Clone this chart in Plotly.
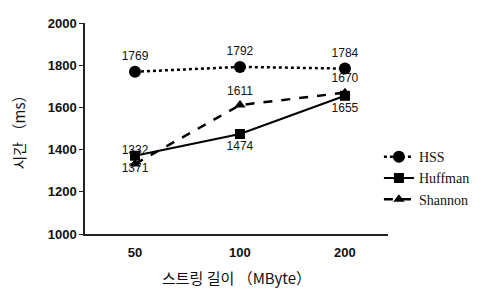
import plotly.graph_objects as go

categories = ["50", "100", "200"]
hss = [1769, 1792, 1784]
huffman = [1371, 1474, 1655]
shannon = [1332, 1611, 1670]
y_ticks = [1000, 1200, 1400, 1600, 1800, 2000]

num_font = dict(family="Liberation Sans, Arial", size=12, color="#111")
tick_font = dict(family="Liberation Sans, Arial", size=13, color="#111", weight="bold")

fig = go.Figure()
fig.add_trace(go.Scatter(
    x=categories, y=hss, name="HSS", mode="lines+markers+text",
    line=dict(color="black", width=2.5, dash="dot"),
    marker=dict(symbol="circle", size=12, color="black"),
    text=[str(v) for v in hss], textposition="top center", textfont=num_font,
))
fig.add_trace(go.Scatter(
    x=categories, y=huffman, name="Huffman", mode="lines+markers+text",
    line=dict(color="black", width=2),
    marker=dict(symbol="square", size=10, color="black"),
    text=[str(v) for v in huffman], textposition="bottom center", textfont=num_font,
))
fig.add_trace(go.Scatter(
    x=categories, y=shannon, name="Shannon", mode="lines+markers+text",
    line=dict(color="black", width=2.5, dash="dash"),
    marker=dict(symbol="triangle-up", size=10, color="black"),
    text=[str(v) for v in shannon], textposition="top center", textfont=num_font,
))

fig.update_layout(
    width=487, height=291,
    margin=dict(l=77, r=107, t=15, b=65, autoexpand=False),
    paper_bgcolor="white", plot_bgcolor="white",
    showlegend=True,
    legend=dict(x=0.97, y=0.44, xanchor="left", yanchor="top",
                font=dict(family="Liberation Serif", size=14, color="#111"),
                bgcolor="rgba(0,0,0,0)", tracegroupgap=0, itemwidth=30),
    xaxis=dict(
        type="category", range=[-0.476, 2.41], automargin=False,
        showline=True, linecolor="#222", linewidth=1.5,
        showgrid=False, ticks="outside", ticklen=6, tickcolor="rgba(0,0,0,0)",
        zeroline=False,
        tickfont=tick_font,
        title=dict(text="스트링 길이 （MByte）", standoff=14,
                   font=dict(family="Noto Sans CJK KR", size=15, color="#111")),
    ),
    yaxis=dict(
        range=[1000, 2000], tickvals=y_ticks, automargin=False,
        showline=True, linecolor="#222", linewidth=1.5,
        showgrid=False, ticks="outside", ticklen=4, tickcolor="#222",
        zeroline=False,
        tickfont=tick_font,
        title=dict(text="시간 （ms）", standoff=22,
                   font=dict(family="Noto Sans CJK KR", size=15, color="#111")),
    ),
)

fig.write_html("out.html")
